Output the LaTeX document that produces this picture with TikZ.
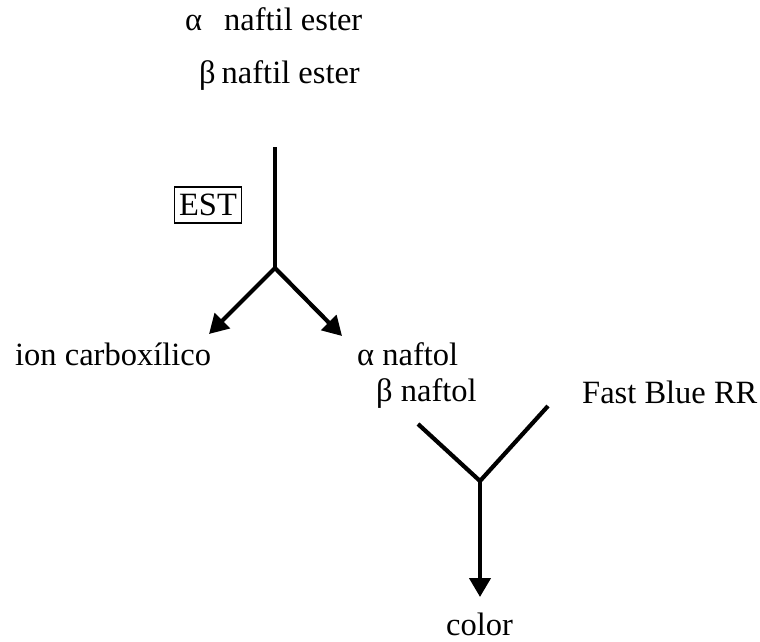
\documentclass[tikz,border=0pt]{standalone}
\usepackage{fontspec}
\setmainfont{Liberation Serif}
\usetikzlibrary{arrows.meta}
\tikzset{
  lbl/.style={inner sep=0pt, anchor=base west, font=\fontsize{32.5}{38}\selectfont},
  conn/.style={line width=4.2pt},
  arr/.style={line width=4.2pt, -{Triangle[length=19pt,width=21pt]}},
  boxed/.style={draw, line width=1.2pt, inner xsep=5pt, inner ysep=7pt, font=\fontsize{32.5}{38}\selectfont}
}
\begin{document}
\begin{tikzpicture}[x=1pt,y=-1pt]
\useasboundingbox (0,0) rectangle (760,642);
\node[lbl] (e1) at (185,31) {α\hspace{22pt}naftil ester};
\node[lbl] (e2) at (199,83) {β\hspace{6pt}naftil ester};
\node[boxed] (est) at (208,205) {EST};
\coordinate (top) at (275,147);
\coordinate (j1) at (275,268);
\coordinate (t1) at (209,334);
\coordinate (t2) at (342,336);
\node[lbl] (ion) at (15,365) {ion carboxílico};
\node[lbl] (an) at (357,365) {α naftol};
\node[lbl] (bn) at (376,401) {β naftol};
\node[lbl] (fb) at (582,403) {Fast Blue RR};
\coordinate (s1) at (418,424);
\coordinate (s2) at (548,406);
\coordinate (j2) at (480,481);
\coordinate (t3) at (480,597);
\node[lbl] (col) at (446,635) {color};
\draw[conn] (top) -- (j1);
\draw[arr] (j1) -- (t1);
\draw[arr] (j1) -- (t2);
\draw[conn, line cap=butt] (s1) -- (j2) -- (s2);
\draw[arr] (j2) -- (t3);
\end{tikzpicture}
\end{document}
